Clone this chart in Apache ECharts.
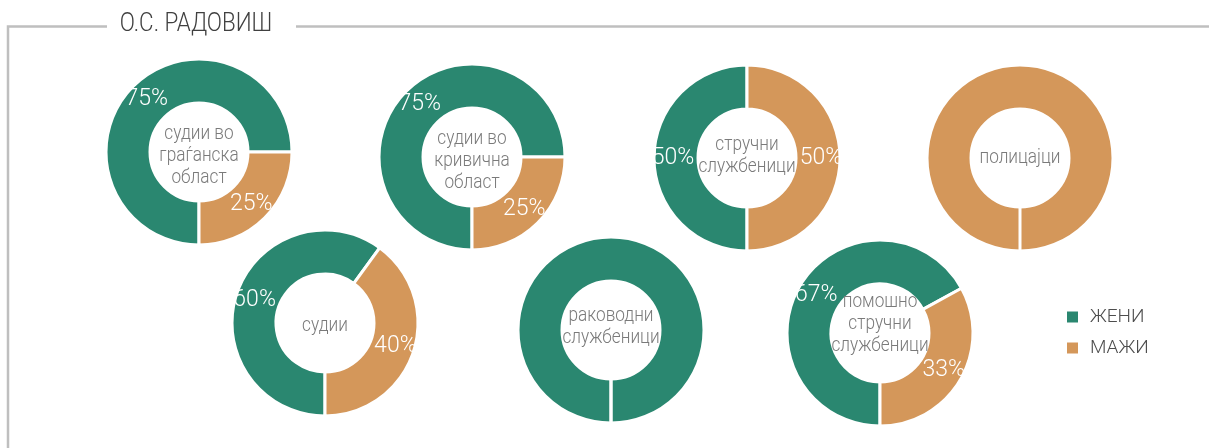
<!DOCTYPE html>
<html>
<head>
<meta charset="utf-8">
<script src="https://cdn.jsdelivr.net/npm/echarts@6/dist/echarts.min.js"></script>
<style>
  html, body { margin: 0; padding: 0; background: #fff; }
  #chart { width: 1209px; height: 448px; }
</style>
</head>
<body>
<div id="chart"></div>
<script>
// Share of women and men per staff group, О.С. Радовиш
const title = 'О.С. РАДОВИШ';
const categories = [
  'судии во\nграѓанска\nобласт',
  'судии во\nкривична\nобласт',
  'стручни\nслужбеници',
  'полицајци',
  'судии',
  'раководни\nслужбеници',
  'помошно\nстручни\nслужбеници'
];
const seriesNames = ['ЖЕНИ', 'МАЖИ'];
const women = [75, 75, 50, 0, 60, 100, 67];
const men = [25, 25, 50, 100, 40, 0, 33];

// Donut layout: centre of each ring and the vertical middle of its caption
const centers = [[199, 152], [472, 157], [747, 158], [1020, 158], [325, 323], [611, 330], [880, 333]];
const captionY = [156, 161, 156, 158, 326, 327, 324];
const R_IN = 49, R_OUT = 93;

const GREEN = '#2a8770';
const ORANGE = '#d4975a';
const FONT = 'Roboto, "Open Sans", sans-serif';

const chart = echarts.init(document.getElementById('chart'), null, { renderer: 'canvas' });

const series = categories.map((name, i) => ({
  type: 'pie',
  name: name.replace(/\n/g, ' '),
  center: centers[i],
  radius: [R_IN, R_OUT],
  startAngle: -90,
  clockwise: true,
  silent: true,
  avoidLabelOverlap: false,
  itemStyle: { borderColor: '#fff', borderWidth: 3 },
  label: {
    show: true,
    position: 'inside',
    color: '#fff',
    fontFamily: FONT,
    fontWeight: 300,
    fontSize: 23,
    formatter: p => (p.value > 0 && p.value < 100) ? p.value + '%' : ''
  },
  labelLine: { show: false },
  emphasis: { disabled: true },
  data: [
    { name: seriesNames[0], value: women[i], itemStyle: { color: GREEN } },
    { name: seriesNames[1], value: men[i], itemStyle: { color: ORANGE } }
  ]
}));

// Caption inside each ring, slightly condensed
const captions = categories.map((name, i) => ({
  type: 'text',
  x: centers[i][0],
  y: captionY[i],
  scaleX: 0.82,
  z: 10,
  style: {
    text: name,
    align: 'center',
    verticalAlign: 'middle',
    fill: '#7a7a7a',
    font: '300 21px ' + FONT,
    lineHeight: 22
  }
}));

// A ring holding a single group still shows the white seam where it starts
const seams = [];
categories.forEach((_, i) => {
  if (women[i] === 0 || men[i] === 0) {
    const [cx, cy] = centers[i];
    seams.push({
      type: 'line', z: 6,
      shape: { x1: cx, y1: cy + R_IN - 2, x2: cx, y2: cy + R_OUT + 2 },
      style: { stroke: '#fff', lineWidth: 3 }
    });
  }
});

chart.setOption({
  animation: false,
  color: [GREEN, ORANGE],
  legend: {
    orient: 'vertical',
    left: 1060,
    top: 302,
    icon: 'rect',
    itemWidth: 13,
    itemHeight: 13,
    itemGap: 11,
    selectedMode: false,
    textStyle: { color: '#4d4d4d', fontFamily: FONT, fontWeight: 300, fontSize: 19, lineHeight: 20, padding: [0, 0, 0, 6] },
    data: seriesNames
  },
  graphic: [
    { type: 'polyline', z: 5, shape: { points: [[8, 448], [8, 26.5], [107, 26.5]] },
      style: { stroke: '#bfbfbf', lineWidth: 2.5, fill: null } },
    { type: 'line', z: 5, shape: { x1: 296, y1: 26.5, x2: 1209, y2: 26.5 },
      style: { stroke: '#bfbfbf', lineWidth: 2.5 } },
    { type: 'text', z: 5, x: 196, y: 24, scaleX: 0.86,
      style: { text: title, align: 'center', verticalAlign: 'middle', fill: '#404040', font: '300 26px ' + FONT } }
  ].concat(seams, captions),
  series: series
});
</script>
</body>
</html>
